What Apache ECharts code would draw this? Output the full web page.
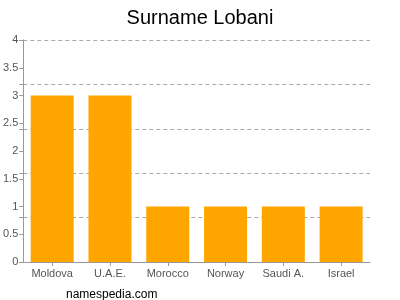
<!DOCTYPE html>
<html><head><meta charset="utf-8">
<script src="https://cdn.jsdelivr.net/npm/echarts@6/dist/echarts.min.js"></script>
<style>html,body{margin:0;padding:0;background:#fff}#c{width:400px;height:300px}</style>
</head><body><div id="c"></div>
<script>
const categories = ['Moldova', 'U.A.E.', 'Morocco', 'Norway', 'Saudi A.', 'Israel'];
const values = [3, 3, 1, 1, 1, 1];
const chart = echarts.init(document.getElementById('c'), null, {renderer: 'canvas'});
chart.setOption({
  animation: false,
  title: [{
    text: 'Surname Lobani', left: 'center', top: 3,
    textStyle: {fontFamily: 'Liberation Sans, Arial, sans-serif', fontSize: 20, fontWeight: 'normal', color: '#000'}
  }, {
    text: 'namespedia.com', left: 61, top: 284,
    textStyle: {fontFamily: 'Liberation Sans, Arial, sans-serif', fontSize: 12, fontWeight: 'normal', color: '#000'}
  }],
  grid: {left: 22, right: 30, top: 40, bottom: 38, containLabel: false},
  xAxis: {
    type: 'category', data: categories,
    axisLine: {lineStyle: {color: '#999'}},
    axisTick: {show: true, alignWithLabel: true, length: 4, lineStyle: {color: '#999'}},
    axisLabel: {color: '#555', fontSize: 11, fontFamily: 'Liberation Sans, Arial, sans-serif', margin: 6}
  },
  yAxis: [{
    type: 'value', min: 0, max: 4, interval: 0.5,
    axisLine: {show: true, lineStyle: {color: '#999'}},
    axisTick: {show: true, length: 4, lineStyle: {color: '#999'}},
    axisLabel: {color: '#555', fontSize: 11, fontFamily: 'Liberation Sans, Arial, sans-serif', margin: 5},
    splitLine: {show: false}
  }, {
    type: 'value', min: 0, max: 4, interval: 0.8, position: 'left',
    axisLine: {show: false},
    axisTick: {show: true, inside: false, length: 4, lineStyle: {color: '#999'}},
    axisLabel: {show: false},
    splitLine: {show: true, lineStyle: {color: '#aaa', type: [4, 3], width: 1}}
  }],
  series: [{
    type: 'bar', data: values, yAxisIndex: 0,
    barWidth: 43,
    itemStyle: {color: '#FFA500'}
  }]
});
</script></body></html>
